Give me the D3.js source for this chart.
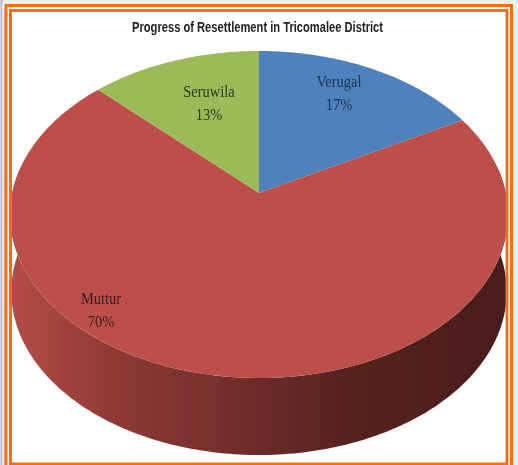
<!DOCTYPE html>
<html><head><meta charset="utf-8">
<script src="https://cdn.jsdelivr.net/npm/d3@7"></script>
<style>html,body{margin:0;padding:0;background:#e4f0fb;overflow:hidden}svg{display:block}</style>
</head><body>
<script>
const titleText = "Progress of Resettlement in Tricomalee District";
const categories = ["Verugal", "Muttur", "Seruwila"];
const values = [17, 70.4, 12.6];
const percentLabels = ["17%", "70%", "13%"];
const colors = ["#4f81bd", "#bd504c", "#9bbb59"];
const labelColors = ["#1d3250", "#3a1c1c", "#2b3818"];
const labelPositions = [[339, 82], [101, 299], [209, 92]];
const sideStops = [[0, "#b54d48"], [0.2, "#8f3a36"], [0.5, "#6b2c2a"], [0.7, "#54211e"], [1, "#4a1e1b"]];

const W = 518, H = 465;
const svg = d3.select("body").append("svg").attr("width", W).attr("height", H);
const defs = svg.append("defs");
defs.append("filter").attr("id", "soft").attr("x", "-5%").attr("y", "-5%").attr("width", "110%").attr("height", "110%")
  .append("feGaussianBlur").attr("stdDeviation", 0.55);
defs.append("filter").attr("id", "softT").attr("x", "-5%").attr("y", "-30%").attr("width", "110%").attr("height", "160%")
  .append("feGaussianBlur").attr("stdDeviation", 0.35);
const grad = defs.append("linearGradient").attr("id", "side");
sideStops.forEach(s => grad.append("stop").attr("offset", s[0]).attr("stop-color", s[1]));

svg.append("rect").attr("x", 7).attr("y", 7).attr("width", 503).attr("height", 458).attr("fill", "#fff");

const cx = 259, cy0 = 193, A = 246.8, B = 135.3, p = 0.1315;
const project = (a, r, dy = 0, s = 1) => {
  const u = r * Math.sin(a), v = -r * Math.cos(a), w = 1 - p * v;
  return [cx + s * A * u / w, (cy0 + B * v) / w + dy];
};
const line = d3.line();
const arcs = d3.pie().sort(null).value(d => d)(values);
const STEP = Math.PI / 180;
const arcPts = (a0, a1, dy, s) => d3.range(a0, a1, STEP).concat([a1]).map(a => project(a, 1, dy, s));

const chart = svg.append("g").attr("filter", "url(#soft)");
const a0 = Math.PI * 0.45, a1 = Math.PI * 1.55;
const rim = arcPts(a0, a1, 0, 1);
const bottom = arcPts(a0, a1, 77, 0.995).reverse();
chart.append("path").attr("d", line(rim.concat(bottom)) + "Z").attr("fill", "url(#side)");
chart.selectAll("path.slice").data(arcs).join("path").attr("class", "slice")
  .attr("fill", (d, i) => colors[i])
  .attr("d", d => line([project(0, 0)].concat(arcPts(d.startAngle, d.endAngle, 0, 1))) + "Z");

const lab = svg.append("g").attr("font-family", "'Liberation Serif', serif").attr("font-size", 17)
  .attr("text-anchor", "middle").attr("filter", "url(#softT)");
const squeeze = t => t.attr("textLength", function () { return this.getComputedTextLength() * 0.85; })
  .attr("lengthAdjust", "spacingAndGlyphs");
categories.forEach((c, i) => {
  lab.append("text").attr("fill", labelColors[i]).attr("x", labelPositions[i][0]).attr("y", labelPositions[i][1] + 5).text(c).call(squeeze);
  lab.append("text").attr("fill", labelColors[i]).attr("x", labelPositions[i][0]).attr("y", labelPositions[i][1] + 28).text(percentLabels[i]).call(squeeze);
});
svg.append("text").attr("x", 257.5).attr("y", 32).attr("text-anchor", "middle")
  .attr("font-family", "'Liberation Sans Narrow','Liberation Sans',sans-serif").attr("font-size", 15).attr("font-weight", 700)
  .attr("textLength", 251).attr("lengthAdjust", "spacingAndGlyphs")
  .attr("fill", "#222").attr("filter", "url(#softT)").text(titleText);

const f = svg.append("g").attr("fill", "none");
f.append("path").attr("d", `M1.5 ${H}V0`).attr("stroke", "#b9bcc4").attr("stroke-width", 2);
f.append("path").attr("d", `M3 ${H}V4`).attr("stroke", "#fff").attr("stroke-width", 1);
f.append("path").attr("d", `M4 ${H}V9`).attr("stroke", "#cfc8c2").attr("stroke-width", 1);
f.append("path").attr("d", `M6 ${H}V5.5H511.5V${H}`).attr("stroke", "#ff6c0a").attr("stroke-width", 3);
f.append("path").attr("d", `M10.5 464V10.5H507V464Z`).attr("stroke", "#ff6c0a").attr("stroke-width", 3);
</script>
</body></html>
